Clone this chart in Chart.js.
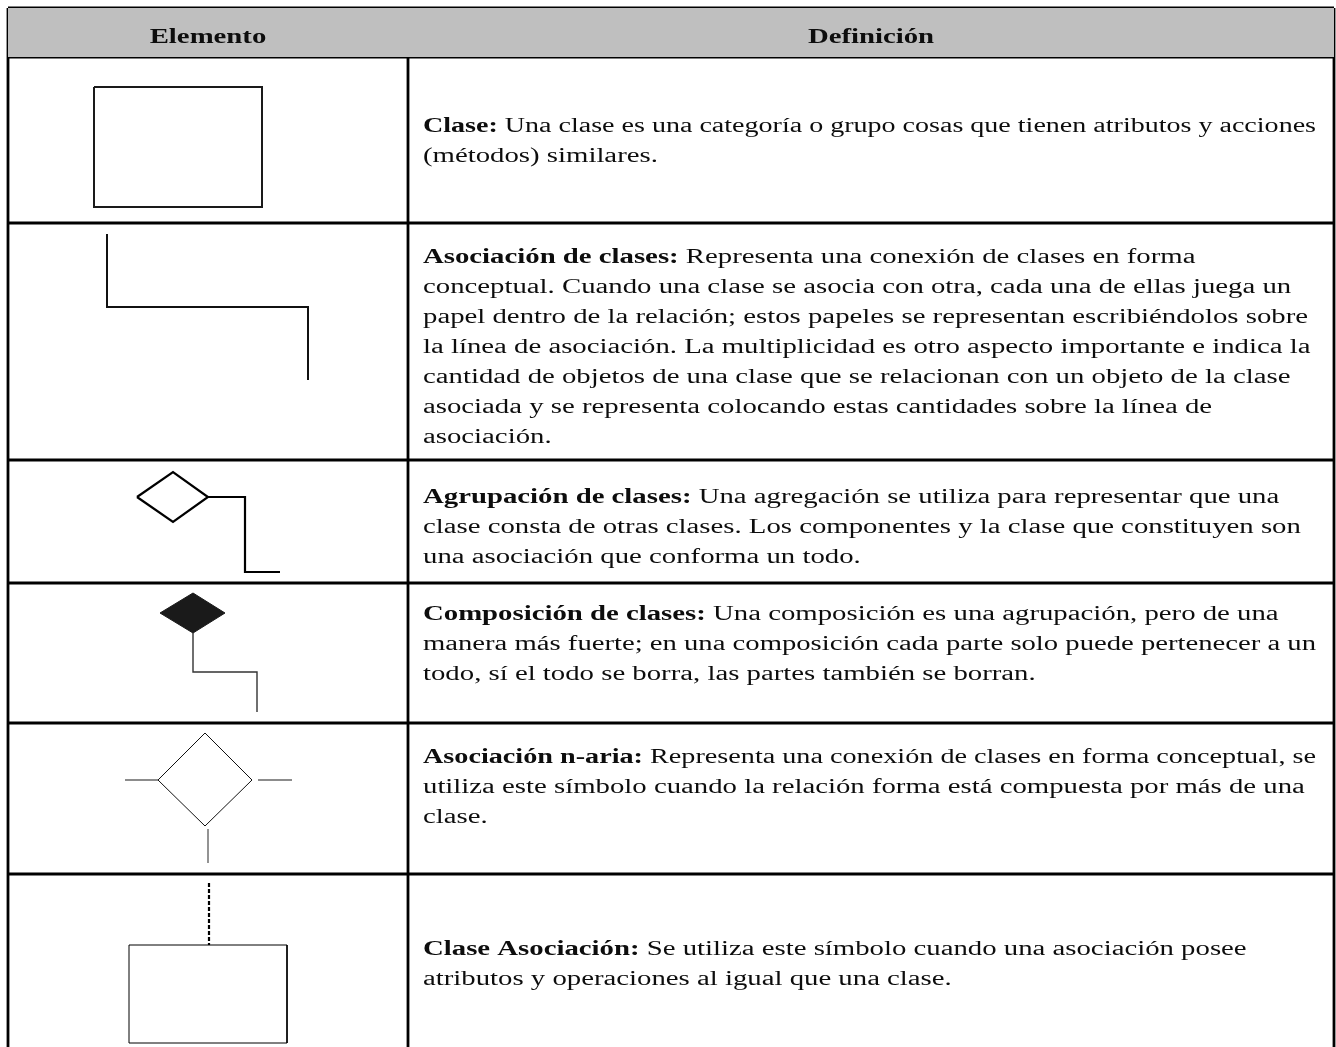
<!DOCTYPE html>
<html>
<head>
<meta charset="utf-8">
<script src="https://cdn.jsdelivr.net/npm/chart.js@4/dist/chart.umd.min.js"></script>
<style>
  html, body { margin: 0; padding: 0; background: #fff; overflow: hidden; }
  canvas { display: block; }
</style>
</head>
<body>
<canvas id="tabla" width="1336" height="1047"></canvas>
<script>
// column titles
const headers = ['Elemento', 'Definición'];

// bold term of each row
const terms = [
  'Clase:',
  'Asociación de clases:',
  'Agrupación de clases:',
  'Composición de clases:',
  'Asociación n-aria:',
  'Clase Asociación:'
];

// text that follows the term, one entry per printed line
const definitions = [
  [' Una clase es una categoría o grupo cosas que tienen atributos y acciones',
   '(métodos) similares.'],
  [' Representa una conexión de clases en forma',
   'conceptual. Cuando una clase se asocia con otra, cada una de ellas juega un',
   'papel dentro de la relación; estos papeles se representan escribiéndolos sobre',
   'la línea de asociación. La multiplicidad es otro aspecto importante e indica la',
   'cantidad de objetos de una clase que se relacionan con un objeto de la clase',
   'asociada y se representa colocando estas cantidades sobre la línea de',
   'asociación.'],
  [' Una agregación se utiliza para representar que una',
   'clase consta de otras clases. Los componentes y la clase que constituyen son',
   'una asociación que conforma un todo.'],
  [' Una composición es una agrupación, pero de una',
   'manera más fuerte; en una composición cada parte solo puede pertenecer a un',
   'todo, sí el todo se borra, las partes también se borran.'],
  [' Representa una conexión de clases en forma conceptual, se',
   'utiliza este símbolo cuando la relación forma está compuesta por más de una',
   'clase.'],
  [' Se utiliza este símbolo cuando una asociación posee',
   'atributos y operaciones al igual que una clase.']
];

// UML symbols, as polylines in the table's coordinate units
const claseRect = [[94, 87], [262, 87], [262, 207], [94, 207], [94, 87]];
const asociacionLine = [[107, 234], [107, 307], [308, 307], [308, 380]];
const agrupacionDiamond = [[137, 497], [173, 472], [208, 497], [173, 522], [137, 497]];
const agrupacionLine = [[208, 497], [245, 497], [245, 572], [280, 572]];
const composicionTop = [[160, 613], [193, 593], [225, 613]];
const composicionBottom = [[160, 613], [193, 633], [225, 613]];
const composicionLine = [[193, 633], [193, 672], [257, 672], [257, 712]];
const nariaDiamond = [[158, 780], [205, 733], [252, 780], [205, 826], [158, 780]];
const nariaLeft = [[125, 780], [158, 780]];
const nariaRight = [[258, 780], [292, 780]];
const nariaDown = [[208, 829], [208, 863]];
const claseAsocDash = [[209, 883], [209, 945]];
const claseAsocRect = [[129, 945], [287, 945], [287, 1043], [129, 1043], [129, 945]];

// table grid
const tableLeft = 8, tableRight = 1334, tableTop = 8, colSplit = 408;
const rowBottoms = [57, 223, 460, 583, 723, 874];
const headerRow = [[tableLeft, tableTop], [tableRight, tableTop]];

// first baseline of each row and line spacing
const textX = 423;
const textMaxRight = 1316;
const firstBaselines = [132, 263, 503, 620, 763, 955];
const lineStep = 30;

const FONT = '"Liberation Serif", serif';
const SIZE = 20;

function pts(arr) { return arr.map(p => ({x: p[0], y: p[1]})); }

function path(arr, color, width, extra) {
  return Object.assign({
    data: pts(arr),
    showLine: true,
    borderColor: color,
    borderWidth: width,
    pointRadius: 0,
    fill: false,
    tension: 0,
    borderJoinStyle: 'miter',
    borderCapStyle: 'butt'
  }, extra || {});
}

const datasets = [];
// header background
datasets.push(path(headerRow, 'rgba(0,0,0,0)', 0, {fill: {value: rowBottoms[0]}, backgroundColor: '#bfbfbf'}));
// grid lines
datasets.push(path([[tableLeft, tableTop], [tableRight, tableTop]], '#000', 2.8));
rowBottoms.forEach(y => datasets.push(path([[tableLeft, y], [tableRight, y]], '#000', 2.8)));
datasets.push(path([[tableLeft, tableTop], [tableLeft, 1047]], '#000', 2.8));
datasets.push(path([[tableRight, tableTop], [tableRight, 1047]], '#000', 2.8));
datasets.push(path([[colSplit, tableTop], [colSplit, 1047]], '#000', 2.8));
// symbols
datasets.push(path(claseRect, '#1a1a1a', 2));
datasets.push(path(asociacionLine, '#111', 2));
datasets.push(path(agrupacionDiamond, '#000', 2.2));
datasets.push(path(agrupacionLine, '#000', 2.2));
datasets.push(path(composicionTop, '#1a1a1a', 1, {fill: {value: 613}, backgroundColor: '#1a1a1a'}));
datasets.push(path(composicionBottom, '#1a1a1a', 1, {fill: {value: 613}, backgroundColor: '#1a1a1a'}));
datasets.push(path(composicionLine, '#333', 1.4));
datasets.push(path(nariaDiamond, '#111', 1));
datasets.push(path(nariaLeft, '#666', 1.4));
datasets.push(path(nariaRight, '#666', 1.4));
datasets.push(path(nariaDown, '#666', 1.4));
datasets.push(path(claseAsocDash, '#000', 2.2, {borderDash: [4, 2]}));
datasets.push(path(claseAsocRect, '#000', 1));

const textPlugin = {
  id: 'tableText',
  afterDatasetsDraw(chart) {
    const ctx = chart.ctx;
    const xs = chart.scales.x, ys = chart.scales.y;
    ctx.save();
    ctx.fillStyle = '#0d0d0d';
    ctx.textBaseline = 'alphabetic';
    // horizontal stretch so the font matches the original line lengths
    ctx.font = SIZE + 'px ' + FONT;
    const baseSx = 885 / ctx.measureText(definitions[1][2]).width;
    const maxW = textMaxRight - textX;

    function put(x, y, bold, rest, align) {
      ctx.save();
      ctx.font = 'bold ' + SIZE + 'px ' + FONT;
      const bw = bold ? ctx.measureText(bold).width : 0;
      ctx.font = SIZE + 'px ' + FONT;
      const rw = rest ? ctx.measureText(rest).width : 0;
      const sx = Math.min(baseSx, maxW / (bw + rw));
      let px = xs.getPixelForValue(x), py = ys.getPixelForValue(y);
      if (align === 'center') px -= (bw + rw) * sx / 2;
      ctx.translate(px, py);
      ctx.scale(sx, 1);
      if (bold) {
        ctx.font = 'bold ' + SIZE + 'px ' + FONT;
        ctx.fillText(bold, 0, 0);
      }
      if (rest) {
        ctx.font = SIZE + 'px ' + FONT;
        ctx.fillText(rest, bw, 0);
      }
      ctx.restore();
    }

    put((tableLeft + colSplit) / 2, 43, headers[0], '', 'center');
    put((colSplit + tableRight) / 2, 43, headers[1], '', 'center');
    definitions.forEach((lines, r) => {
      lines.forEach((line, i) => {
        put(textX, firstBaselines[r] + i * lineStep, i === 0 ? terms[r] : '', line, 'left');
      });
    });
    ctx.restore();
  }
};

new Chart(document.getElementById('tabla').getContext('2d'), {
  type: 'scatter',
  data: { datasets: datasets },
  options: {
    responsive: false,
    animation: false,
    events: [],
    layout: { padding: 0 },
    plugins: { legend: { display: false }, tooltip: { enabled: false } },
    scales: {
      x: { type: 'linear', display: false, min: 0, max: 1336 },
      y: { type: 'linear', display: false, min: 0, max: 1047, reverse: true }
    }
  },
  plugins: [textPlugin]
});
</script>
</body>
</html>
